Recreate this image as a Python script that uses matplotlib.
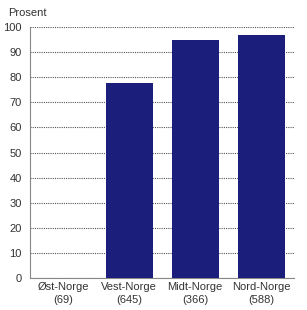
import matplotlib
matplotlib.use("Agg")
import matplotlib.pyplot as plt

regions = ["Øst-Norge", "Vest-Norge", "Midt-Norge", "Nord-Norge"]
counts = [69, 645, 366, 588]
percent = [0, 77.7, 94.8, 96.8]
yticks = list(range(0, 101, 10))

plt.rcParams['font.family'] = ['Liberation Sans', 'DejaVu Sans']

fig = plt.figure(figsize=(3.07, 3.10), dpi=100)
ax = fig.add_axes([0.098, 0.103, 0.86, 0.81])

labels = ["%s\n(%d)" % (r, n) for r, n in zip(regions, counts)]
x = range(len(regions))
ax.bar(x, percent, width=0.71, color='#1b1e7a', zorder=3)

ax.set_xlim(-0.5, len(regions) - 0.5)
ax.set_ylim(0, 100)
ax.set_yticks(yticks)
ax.set_xticks(list(x))
ax.set_xticklabels(labels, fontsize=8, color='#333333', linespacing=1.3)
ax.tick_params(axis='y', labelsize=8, length=0, pad=6, labelcolor='#333333')
ax.tick_params(axis='x', length=0, pad=3)
ax.yaxis.grid(True, linestyle=(0, (1, 1)), color='#555555', linewidth=0.8, zorder=0)

for side in ['top', 'right']:
    ax.spines[side].set_visible(False)
ax.spines['left'].set_color('#888888')
ax.spines['bottom'].set_color('#888888')

fig.text(0.026, 0.958, "Prosent", fontsize=8, color='#333333', va='center')

fig.savefig("out.png", dpi=100)
